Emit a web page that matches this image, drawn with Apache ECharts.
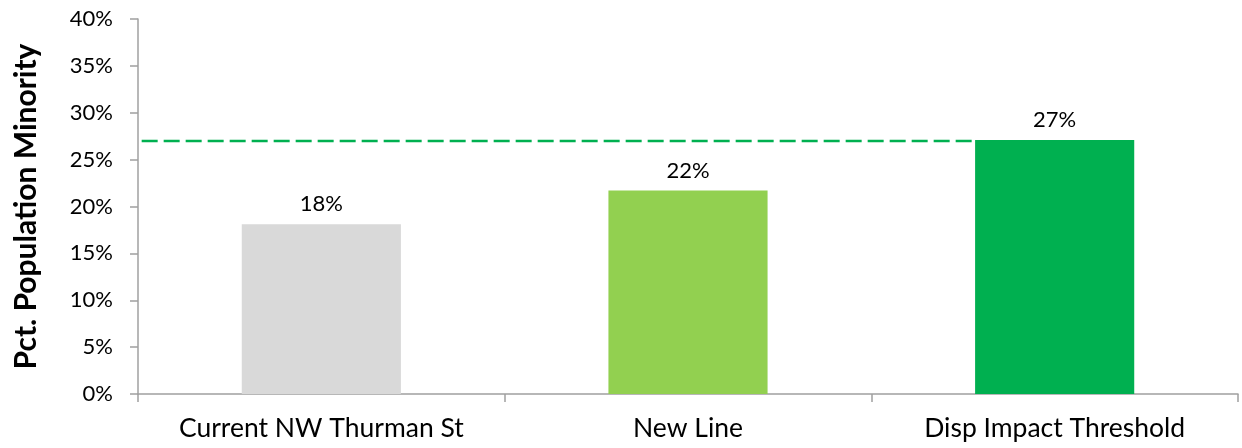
<!DOCTYPE html>
<html>
<head>
<meta charset="utf-8">
<script src="https://cdn.jsdelivr.net/npm/echarts@6/dist/echarts.min.js"></script>
<style>
html,body{margin:0;padding:0;background:#fff;}
#c{width:1242px;height:448px;}
</style>
</head>
<body>
<div id="c"></div>
<script>
const categories = ['Current NW Thurman St', 'New Line', 'Disp Impact Threshold'];
const values = [18.1, 21.7, 27.1];
const labels = ['18%', '22%', '27%'];
const barColors = ['#D9D9D9', '#92D050', '#00B050'];
const threshold = 27;
const yTicks = [0, 5, 10, 15, 20, 25, 30, 35, 40];

const FONT = 'Lato, "Open Sans", sans-serif';
const chart = echarts.init(document.getElementById('c'));
chart.setOption({
  animation: false,
  backgroundColor: '#fff',
  grid: { left: 138, right: 4, top: 19, bottom: 54, containLabel: false },
  xAxis: [{
    type: 'category',
    data: categories,
    axisLine: { lineStyle: { color: '#A0A0A0', width: 1.5 } },
    axisTick: { show: true, interval: 0, length: 8, lineStyle: { color: '#A0A0A0', width: 1.5 } },
    axisLabel: { color: '#000', fontSize: 26.5, fontFamily: FONT, margin: 21, interval: 0, hideOverlap: false }
  }, {
    type: 'value', min: 0, max: 3, show: false
  }],
  yAxis: {
    type: 'value', min: yTicks[0], max: yTicks[yTicks.length - 1], interval: 5,
    name: 'Pct. Population Minority',
    nameLocation: 'middle', nameGap: 97, nameRotate: 90,
    nameTextStyle: { color: '#000', fontSize: 30, fontWeight: 'bold', fontFamily: FONT },
    splitLine: { show: false },
    axisLine: { show: true, lineStyle: { color: '#A0A0A0', width: 1.5 } },
    axisTick: { show: true, length: 8, lineStyle: { color: '#A0A0A0', width: 1.5 } },
    axisLabel: { color: '#000', fontSize: 22, fontFamily: FONT, margin: 25,
      formatter: v => v + '%' }
  },
  series: [{
    type: 'bar',
    xAxisIndex: 0,
    barWidth: '43.4%',
    data: values.map((v, i) => ({ value: v, itemStyle: { color: barColors[i] } })),
    label: {
      show: true, position: 'top', distance: 9, color: '#000', fontSize: 22, fontFamily: FONT,
      formatter: p => labels[p.dataIndex]
    }
  }, {
    type: 'line',
    xAxisIndex: 1,
    data: [[0.01, threshold], [2.277, threshold]],
    symbol: 'none',
    lineStyle: { color: '#00B050', width: 2.5, type: [16, 6] },
    z: 1
  }]
});
</script>
</body>
</html>
